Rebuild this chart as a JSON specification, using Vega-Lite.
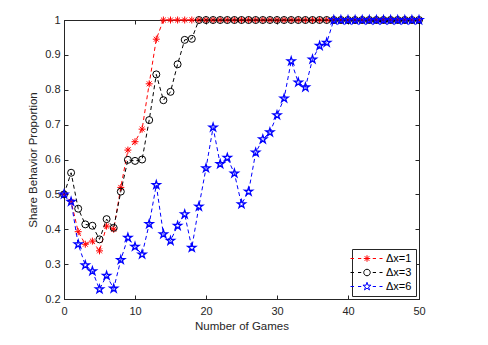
{
  "$schema": "https://vega.github.io/schema/vega-lite/v6.json",
  "autosize": "none",
  "width": 355,
  "height": 279,
  "padding": {"left": 64, "top": 20, "right": 69, "bottom": 46},
  "background": "white",
  "config": {
    "font": "Liberation Sans",
    "view": {"stroke": "#262626", "strokeWidth": 1},
    "axis": {"domainColor": "#262626", "tickColor": "#262626", "labelColor": "#262626", "titleColor": "#262626", "labelFontSize": 11, "titleFontSize": 11.5, "titleFontWeight": "normal", "grid": false, "tickSize": -4, "labelFlush": false, "labelOverlap": false, "labelFont": "Liberation Sans", "titleFont": "Liberation Sans"},
    "legend": {"labelFont": "Liberation Sans", "labelFontSize": 11}
  },
  "data": {"values": [
    {"game":0,"p":0.5,"series":"Δx=1"},{"game":1,"p":0.48,"series":"Δx=1"},{"game":2,"p":0.393,"series":"Δx=1"},{"game":3,"p":0.357,"series":"Δx=1"},{"game":4,"p":0.366,"series":"Δx=1"},{"game":5,"p":0.338,"series":"Δx=1"},{"game":6,"p":0.409,"series":"Δx=1"},{"game":7,"p":0.4,"series":"Δx=1"},{"game":8,"p":0.52,"series":"Δx=1"},{"game":9,"p":0.627,"series":"Δx=1"},{"game":10,"p":0.651,"series":"Δx=1"},{"game":11,"p":0.687,"series":"Δx=1"},{"game":12,"p":0.817,"series":"Δx=1"},{"game":13,"p":0.945,"series":"Δx=1"},{"game":14,"p":1,"series":"Δx=1"},{"game":15,"p":1,"series":"Δx=1"},{"game":16,"p":1,"series":"Δx=1"},{"game":17,"p":1,"series":"Δx=1"},{"game":18,"p":1,"series":"Δx=1"},{"game":19,"p":1,"series":"Δx=1"},{"game":20,"p":1,"series":"Δx=1"},{"game":21,"p":1,"series":"Δx=1"},{"game":22,"p":1,"series":"Δx=1"},{"game":23,"p":1,"series":"Δx=1"},{"game":24,"p":1,"series":"Δx=1"},{"game":25,"p":1,"series":"Δx=1"},{"game":26,"p":1,"series":"Δx=1"},{"game":27,"p":1,"series":"Δx=1"},{"game":28,"p":1,"series":"Δx=1"},{"game":29,"p":1,"series":"Δx=1"},{"game":30,"p":1,"series":"Δx=1"},{"game":31,"p":1,"series":"Δx=1"},{"game":32,"p":1,"series":"Δx=1"},{"game":33,"p":1,"series":"Δx=1"},{"game":34,"p":1,"series":"Δx=1"},{"game":35,"p":1,"series":"Δx=1"},{"game":36,"p":1,"series":"Δx=1"},{"game":37,"p":1,"series":"Δx=1"},{"game":38,"p":1,"series":"Δx=1"},{"game":39,"p":1,"series":"Δx=1"},{"game":40,"p":1,"series":"Δx=1"},{"game":41,"p":1,"series":"Δx=1"},{"game":42,"p":1,"series":"Δx=1"},{"game":43,"p":1,"series":"Δx=1"},{"game":44,"p":1,"series":"Δx=1"},{"game":45,"p":1,"series":"Δx=1"},{"game":46,"p":1,"series":"Δx=1"},{"game":47,"p":1,"series":"Δx=1"},{"game":48,"p":1,"series":"Δx=1"},{"game":49,"p":1,"series":"Δx=1"},{"game":50,"p":1,"series":"Δx=1"},
    {"game":0,"p":0.5,"series":"Δx=3"},{"game":1,"p":0.562,"series":"Δx=3"},{"game":2,"p":0.459,"series":"Δx=3"},{"game":3,"p":0.414,"series":"Δx=3"},{"game":4,"p":0.41,"series":"Δx=3"},{"game":5,"p":0.371,"series":"Δx=3"},{"game":6,"p":0.429,"series":"Δx=3"},{"game":7,"p":0.404,"series":"Δx=3"},{"game":8,"p":0.508,"series":"Δx=3"},{"game":9,"p":0.599,"series":"Δx=3"},{"game":10,"p":0.596,"series":"Δx=3"},{"game":11,"p":0.6,"series":"Δx=3"},{"game":12,"p":0.713,"series":"Δx=3"},{"game":13,"p":0.844,"series":"Δx=3"},{"game":14,"p":0.77,"series":"Δx=3"},{"game":15,"p":0.794,"series":"Δx=3"},{"game":16,"p":0.873,"series":"Δx=3"},{"game":17,"p":0.943,"series":"Δx=3"},{"game":18,"p":0.946,"series":"Δx=3"},{"game":19,"p":1,"series":"Δx=3"},{"game":20,"p":1,"series":"Δx=3"},{"game":21,"p":1,"series":"Δx=3"},{"game":22,"p":1,"series":"Δx=3"},{"game":23,"p":1,"series":"Δx=3"},{"game":24,"p":1,"series":"Δx=3"},{"game":25,"p":1,"series":"Δx=3"},{"game":26,"p":1,"series":"Δx=3"},{"game":27,"p":1,"series":"Δx=3"},{"game":28,"p":1,"series":"Δx=3"},{"game":29,"p":1,"series":"Δx=3"},{"game":30,"p":1,"series":"Δx=3"},{"game":31,"p":1,"series":"Δx=3"},{"game":32,"p":1,"series":"Δx=3"},{"game":33,"p":1,"series":"Δx=3"},{"game":34,"p":1,"series":"Δx=3"},{"game":35,"p":1,"series":"Δx=3"},{"game":36,"p":1,"series":"Δx=3"},{"game":37,"p":1,"series":"Δx=3"},{"game":38,"p":1,"series":"Δx=3"},{"game":39,"p":1,"series":"Δx=3"},{"game":40,"p":1,"series":"Δx=3"},{"game":41,"p":1,"series":"Δx=3"},{"game":42,"p":1,"series":"Δx=3"},{"game":43,"p":1,"series":"Δx=3"},{"game":44,"p":1,"series":"Δx=3"},{"game":45,"p":1,"series":"Δx=3"},{"game":46,"p":1,"series":"Δx=3"},{"game":47,"p":1,"series":"Δx=3"},{"game":48,"p":1,"series":"Δx=3"},{"game":49,"p":1,"series":"Δx=3"},{"game":50,"p":1,"series":"Δx=3"},
    {"game":0,"p":0.5,"series":"Δx=6"},{"game":1,"p":0.479,"series":"Δx=6"},{"game":2,"p":0.357,"series":"Δx=6"},{"game":3,"p":0.297,"series":"Δx=6"},{"game":4,"p":0.28,"series":"Δx=6"},{"game":5,"p":0.228,"series":"Δx=6"},{"game":6,"p":0.267,"series":"Δx=6"},{"game":7,"p":0.23,"series":"Δx=6"},{"game":8,"p":0.312,"series":"Δx=6"},{"game":9,"p":0.376,"series":"Δx=6"},{"game":10,"p":0.35,"series":"Δx=6"},{"game":11,"p":0.328,"series":"Δx=6"},{"game":12,"p":0.415,"series":"Δx=6"},{"game":13,"p":0.527,"series":"Δx=6"},{"game":14,"p":0.386,"series":"Δx=6"},{"game":15,"p":0.367,"series":"Δx=6"},{"game":16,"p":0.41,"series":"Δx=6"},{"game":17,"p":0.443,"series":"Δx=6"},{"game":18,"p":0.347,"series":"Δx=6"},{"game":19,"p":0.465,"series":"Δx=6"},{"game":20,"p":0.575,"series":"Δx=6"},{"game":21,"p":0.692,"series":"Δx=6"},{"game":22,"p":0.587,"series":"Δx=6"},{"game":23,"p":0.605,"series":"Δx=6"},{"game":24,"p":0.56,"series":"Δx=6"},{"game":25,"p":0.472,"series":"Δx=6"},{"game":26,"p":0.508,"series":"Δx=6"},{"game":27,"p":0.62,"series":"Δx=6"},{"game":28,"p":0.658,"series":"Δx=6"},{"game":29,"p":0.678,"series":"Δx=6"},{"game":30,"p":0.727,"series":"Δx=6"},{"game":31,"p":0.775,"series":"Δx=6"},{"game":32,"p":0.882,"series":"Δx=6"},{"game":33,"p":0.821,"series":"Δx=6"},{"game":34,"p":0.807,"series":"Δx=6"},{"game":35,"p":0.887,"series":"Δx=6"},{"game":36,"p":0.926,"series":"Δx=6"},{"game":37,"p":0.935,"series":"Δx=6"},{"game":38,"p":1,"series":"Δx=6"},{"game":39,"p":1,"series":"Δx=6"},{"game":40,"p":1,"series":"Δx=6"},{"game":41,"p":1,"series":"Δx=6"},{"game":42,"p":1,"series":"Δx=6"},{"game":43,"p":1,"series":"Δx=6"},{"game":44,"p":1,"series":"Δx=6"},{"game":45,"p":1,"series":"Δx=6"},{"game":46,"p":1,"series":"Δx=6"},{"game":47,"p":1,"series":"Δx=6"},{"game":48,"p":1,"series":"Δx=6"},{"game":49,"p":1,"series":"Δx=6"},{"game":50,"p":1,"series":"Δx=6"}
  ]},
  "resolve": {"axis": {"x": "independent", "y": "independent"}},
  "layer": [
    {
      "mark": {"type": "point", "opacity": 0, "filled": false},
      "encoding": {
        "x": {"field": "game", "type": "quantitative", "scale": {"domain": [0, 50], "nice": false, "zero": false, "padding": 0}, "axis": {"values": [0, 10, 20, 30, 40, 50], "title": "Number of Games", "labelPadding": 10, "titlePadding": 4}},
        "y": {"field": "p", "type": "quantitative", "scale": {"domain": [0.2, 1], "nice": false, "zero": false, "padding": 0}, "axis": {"values": [0.2, 0.3, 0.4, 0.5, 0.6, 0.7, 0.8, 0.9, 1], "format": "~g", "title": "Share Behavior Proportion", "labelPadding": 8, "titlePadding": 6}}
      }
    },
    {
      "mark": {"type": "point", "opacity": 0, "filled": false},
      "encoding": {
        "x": {"field": "game", "type": "quantitative", "scale": {"domain": [0, 50], "nice": false, "zero": false, "padding": 0}, "axis": {"orient": "top", "values": [0, 10, 20, 30, 40, 50], "labels": false, "title": null, "domain": false}},
        "y": {"field": "p", "type": "quantitative", "scale": {"domain": [0.2, 1], "nice": false, "zero": false, "padding": 0}, "axis": {"orient": "right", "values": [0.2, 0.3, 0.4, 0.5, 0.6, 0.7, 0.8, 0.9, 1], "labels": false, "title": null, "domain": false}},
        "color": {"field": "series", "type": "nominal", "scale": {"domain": ["Δx=1", "Δx=3", "Δx=6"], "range": ["#ff0000", "#000000", "#0000ff"]}, "legend": {"orient": "bottom-right", "offset": 3, "title": null, "symbolOpacity": 1, "symbolSize": 100, "symbolOffset": 5.5, "labelOffset": 13.5, "symbolStrokeWidth": 1, "strokeColor": "#262626", "fillColor": "white", "padding": 4, "rowPadding": 2, "labelColor": "#000000"}},
        "shape": {"field": "series", "type": "nominal", "scale": {"domain": ["Δx=1", "Δx=3", "Δx=6"], "range": [
          "M-3.3,0L-2.6,0M-1.8,0L-1.15,0M1.15,0L1.8,0M2.5,0L3.1,0M-0.65,0L0.65,0M0,-0.65L0,0.65M-0.46,-0.46L0.46,0.46M-0.46,0.46L0.46,-0.46",
          "M-3.3,0L-2.6,0M-1.8,0L-1.15,0M1.15,0L1.8,0M2.5,0L3.1,0M0.65,0A0.65,0.65 0 1,1 -0.65,0A0.65,0.65 0 1,1 0.65,0",
          "M-3.3,0L-2.6,0M-1.8,0L-1.15,0M1.15,0L1.8,0M2.5,0L3.1,0M0,-0.85L0.192,-0.261L0.808,-0.263L0.309,0.1L0.5,0.688L0,0.325L-0.5,0.688L-0.309,0.1L-0.808,-0.263L-0.192,-0.261Z"
        ]}, "legend": {"orient": "bottom-right", "offset": 3, "title": null, "symbolOpacity": 1, "symbolSize": 100, "symbolOffset": 5.5, "labelOffset": 13.5, "symbolStrokeWidth": 1, "strokeColor": "#262626", "fillColor": "white", "padding": 4, "rowPadding": 2, "labelColor": "#000000"}}
      }
    },
    {
      "transform": [{"filter": "datum.series === 'Δx=1'"}],
      "layer": [
        {"mark": {"type": "line", "strokeDash": [4, 3], "strokeWidth": 1, "color": "#ff0000"}, "encoding": {"x": {"field": "game", "type": "quantitative", "scale": {"domain": [0, 50], "nice": false, "zero": false, "padding": 0}, "axis": null}, "y": {"field": "p", "type": "quantitative", "scale": {"domain": [0.2, 1], "nice": false, "zero": false, "padding": 0}, "axis": null}}},
        {"mark": {"type": "point", "shape": "M-1,0L1,0M0,-1L0,1M-0.7,-0.7L0.7,0.7M-0.7,0.7L0.7,-0.7", "size": 49, "filled": false, "color": "#ff0000", "strokeWidth": 1, "opacity": 1}, "encoding": {"x": {"field": "game", "type": "quantitative", "scale": {"domain": [0, 50], "nice": false, "zero": false, "padding": 0}, "axis": null}, "y": {"field": "p", "type": "quantitative", "scale": {"domain": [0.2, 1], "nice": false, "zero": false, "padding": 0}, "axis": null}}}
      ]
    },
    {
      "transform": [{"filter": "datum.series === 'Δx=3'"}],
      "layer": [
        {"mark": {"type": "line", "strokeDash": [4, 3], "strokeWidth": 1, "color": "#000000"}, "encoding": {"x": {"field": "game", "type": "quantitative", "scale": {"domain": [0, 50], "nice": false, "zero": false, "padding": 0}, "axis": null}, "y": {"field": "p", "type": "quantitative", "scale": {"domain": [0.2, 1], "nice": false, "zero": false, "padding": 0}, "axis": null}}},
        {"mark": {"type": "point", "shape": "circle", "size": 49, "filled": false, "color": "#000000", "strokeWidth": 1, "opacity": 1}, "encoding": {"x": {"field": "game", "type": "quantitative", "scale": {"domain": [0, 50], "nice": false, "zero": false, "padding": 0}, "axis": null}, "y": {"field": "p", "type": "quantitative", "scale": {"domain": [0.2, 1], "nice": false, "zero": false, "padding": 0}, "axis": null}}}
      ]
    },
    {
      "transform": [{"filter": "datum.series === 'Δx=6'"}],
      "layer": [
        {"mark": {"type": "line", "strokeDash": [4, 3], "strokeWidth": 1, "color": "#0000ff"}, "encoding": {"x": {"field": "game", "type": "quantitative", "scale": {"domain": [0, 50], "nice": false, "zero": false, "padding": 0}, "axis": null}, "y": {"field": "p", "type": "quantitative", "scale": {"domain": [0.2, 1], "nice": false, "zero": false, "padding": 0}, "axis": null}}},
        {"mark": {"type": "point", "shape": "M0,-1L0.226,-0.307L0.951,-0.309L0.363,0.118L0.588,0.809L0,0.382L-0.588,0.809L-0.363,0.118L-0.951,-0.309L-0.226,-0.307Z", "size": 72, "filled": false, "color": "#0000ff", "strokeWidth": 1.3, "opacity": 1}, "encoding": {"x": {"field": "game", "type": "quantitative", "scale": {"domain": [0, 50], "nice": false, "zero": false, "padding": 0}, "axis": null}, "y": {"field": "p", "type": "quantitative", "scale": {"domain": [0.2, 1], "nice": false, "zero": false, "padding": 0}, "axis": null}}}
      ]
    }
  ]
}
